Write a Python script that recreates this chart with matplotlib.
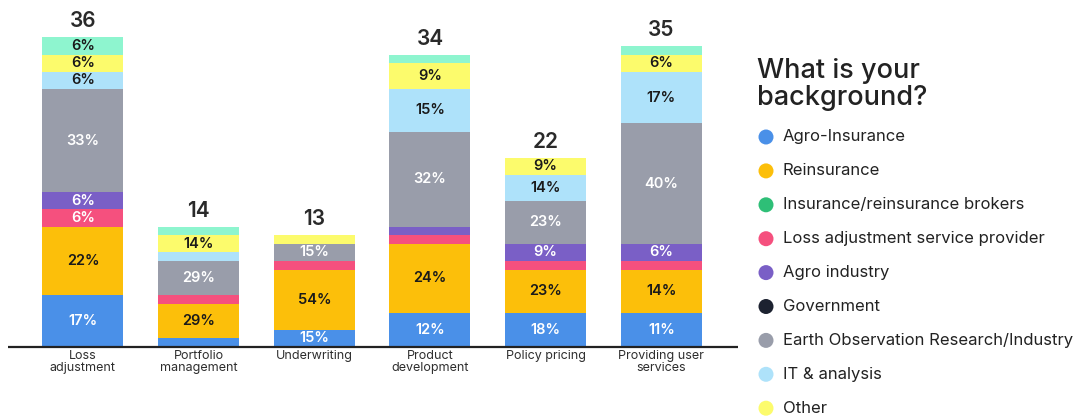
import numpy as np
import matplotlib.pyplot as plt
from matplotlib.patches import Circle

plt.rcParams['font.family'] = ['Inter', 'DejaVu Sans']

categories = ['Loss\nadjustment', 'Portfolio\nmanagement', 'Underwriting',
              'Product\ndevelopment', 'Policy pricing', 'Providing user\nservices']

# respondent counts per background, stacked bottom to top
agro_insurance = [6, 1, 2, 4, 4, 4]
reinsurance = [8, 4, 7, 8, 5, 5]
loss_adj_provider = [2, 1, 1, 1, 1, 1]
agro_industry = [2, 0, 0, 1, 2, 2]
government = [0, 0, 0, 0, 0, 0]
earth_obs = [12, 4, 2, 11, 5, 14]
it_analysis = [2, 1, 0, 5, 3, 6]
other = [2, 2, 1, 3, 2, 2]
brokers = [2, 1, 0, 1, 0, 1]

legend_labels = ['Agro-Insurance', 'Reinsurance', 'Insurance/reinsurance brokers',
                 'Loss adjustment service provider', 'Agro industry', 'Government',
                 'Earth Observation Research/Industry', 'IT & analysis', 'Other']
legend_colors = ['#4a90e8', '#fcbf0a', '#2ebf77', '#f5507e', '#7a5fc6',
                 '#1c2230', '#999daa', '#aee2fa', '#fcfb6c']

stack = [
    (agro_insurance, '#4a90e8', 'white'),
    (reinsurance, '#fcbf0a', '#1a1a1a'),
    (loss_adj_provider, '#f5507e', 'white'),
    (agro_industry, '#7a5fc6', 'white'),
    (government, '#1c2230', 'white'),
    (earth_obs, '#999daa', 'white'),
    (it_analysis, '#aee2fa', '#1a1a1a'),
    (other, '#fcfb6c', '#1a1a1a'),
    (brokers, '#8ef5cf', '#1a1a1a'),
]

W, H = 1081, 417
fig = plt.figure(figsize=(W / 100, H / 100), dpi=100)

# axes placed in pixel units: baseline at y=347, 8.6 px per respondent
base_px = 347
ax = fig.add_axes([0, (H - base_px) / H, 740 / W, 344 / H])
ax.set_ylim(0, 40)
ax.set_xlim(-0.717, 5.68)
ax.axis('off')

x = np.arange(len(categories))
totals = np.zeros(len(categories))
for vals, _, _ in stack:
    totals += np.array(vals)

bottom = np.zeros(len(categories))
for vals, color, tcolor in stack:
    vals = np.array(vals, dtype=float)
    ax.bar(x, vals, width=0.70, bottom=bottom, color=color, linewidth=0)
    for i, v in enumerate(vals):
        if v >= 2:
            pct = round(100 * v / totals[i])
            ax.text(x[i], bottom[i] + v / 2, f'{pct}%', ha='center', va='center',
                    fontsize=10.5, fontweight='semibold', color=tcolor)
    bottom += vals

for i, t in enumerate(totals):
    ax.text(x[i], t + 0.7, f'{int(t)}', ha='center', va='bottom',
            fontsize=15, fontweight='semibold', color='#2a2a2a')
    ax.text(x[i], -0.4, categories[i], ha='center', va='top', fontsize=9,
            color='#2e2e2e', linespacing=1.0)

ax.plot([-0.65, 5.66], [0, 0], color='#222222', lw=1.6, solid_capstyle='butt',
        clip_on=False)

# legend drawn by hand on the right
fig.text(757 / W, 1 - 58 / H, 'What is your\nbackground?', ha='left', va='top',
         fontsize=19.5, fontweight='medium', color='#222222', linespacing=1.07)
for k, (lab, col) in enumerate(zip(legend_labels, legend_colors)):
    yc = 137 + k * 33.9
    fig.patches.append(Circle((766, H - yc), 7.5, transform=None,
                              facecolor=col, edgecolor='none'))
    fig.text(783 / W, 1 - yc / H, lab, ha='left', va='center',
             fontsize=12, color='#222222')

fig.savefig('out.png', dpi=100)
